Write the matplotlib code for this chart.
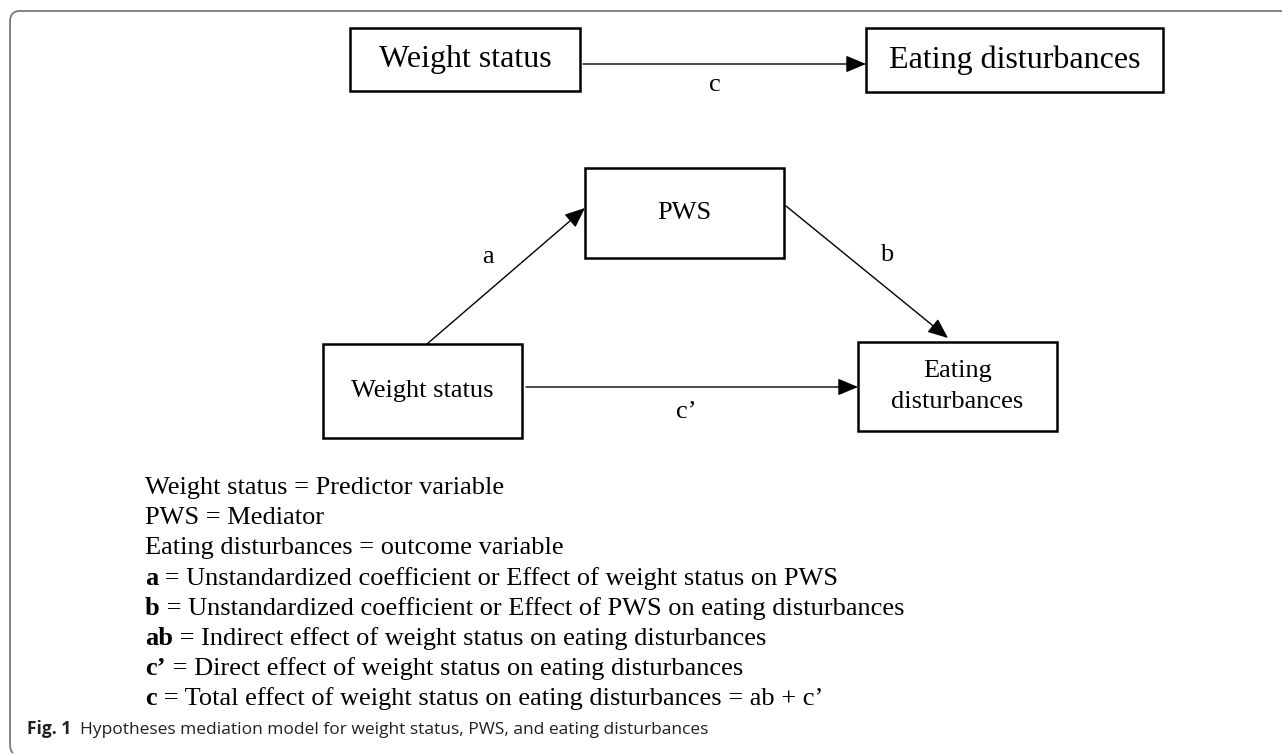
import matplotlib
matplotlib.use("Agg")
import matplotlib.pyplot as plt
from matplotlib.patches import Rectangle, PathPatch
from matplotlib.path import Path

# ---- content ----
box_labels = ["Weight status", "Eating disturbances", "PWS", "Weight status", "Eating\ndisturbances"]
path_labels = ["c", "a", "b", "c\u2019"]
legend_bold = ["", "", "", "a", "b", "ab", "c\u2019", "c"]
legend_text = [
    "Weight status = Predictor variable",
    "PWS = Mediator",
    "Eating disturbances = outcome variable",
    " = Unstandardized coefficient or Effect of weight status on PWS",
    " = Unstandardized coefficient or Effect of PWS on eating disturbances",
    " = Indirect effect of weight status on eating disturbances",
    " = Direct effect of weight status on eating disturbances",
    " = Total effect of weight status on eating disturbances = ab + c\u2019",
]
caption_bold = "Fig. 1"
caption_text = "Hypotheses mediation model for weight status, PWS, and eating disturbances"

# ---- layout (pixel coordinates) ----
W, H = 1282, 755
box_geom = [(350, 28, 580, 91), (866, 28, 1163, 92), (585, 168, 784, 258),
            (323, 344, 522, 438), (858, 342, 1057, 431)]
box_fs = [23, 23, 19, 19, 19]
arrows = [((583, 64), (866, 64)), ((427, 344), (585, 208)),
          ((786, 206), (948, 338)), ((526, 387), (858, 387))]
label_pos = [(715, 85), (488, 257), (887, 255), (686, 412)]

SERIF = "Liberation Serif"
SANS = "Open Sans"

fig = plt.figure(figsize=(W / 100, H / 100), dpi=100)
ax = fig.add_axes([0, 0, 1, 1])
ax.set_xlim(0, W)
ax.set_ylim(H, 0)
ax.axis("off")

# frame
verts = [(W, 11), (20, 11), (10, 11), (10, 21), (10, 744), (10, 751), (13, 753)]
codes = [Path.MOVETO, Path.LINETO, Path.CURVE3, Path.CURVE3, Path.LINETO, Path.CURVE3, Path.CURVE3]
ax.add_patch(PathPatch(Path(verts, codes), fill=False, edgecolor="#7a7a7a", lw=1.3))

# boxes
for lab, (x0, y0, x1, y1), fs in zip(box_labels, box_geom, box_fs):
    ax.add_patch(Rectangle((x0, y0), x1 - x0, y1 - y0, fill=False, edgecolor="black", lw=1.8))
    lines = lab.split("\n")
    cy = (y0 + y1) / 2
    n = len(lines)
    for i, ln in enumerate(lines):
        yy = cy + (i - (n - 1) / 2) * 30
        ax.text((x0 + x1) / 2, yy, ln, ha="center", va="center", fontsize=fs,
                family=SERIF, color="black")

# arrows
for (p0, p1) in arrows:
    ax.annotate("", xy=p1, xytext=p0,
                arrowprops=dict(arrowstyle="-|>,head_length=0.62,head_width=0.26",
                                lw=1.0, color="black", shrinkA=0, shrinkB=0,
                                mutation_scale=20))

for lab, (x, y) in zip(path_labels, label_pos):
    ax.text(x, y, lab, ha="center", va="center", fontsize=19, family=SERIF, color="black")

# legend
lx = 145
for i, (b, t) in enumerate(zip(legend_bold, legend_text)):
    by = 494 + 30.2 * i
    if b:
        bt = ax.text(lx, by, b, ha="left", va="baseline", fontsize=19, family=SERIF,
                     fontweight="bold", color="black")
        ax.annotate(t, xy=(1, 0), xycoords=bt, ha="left", va="bottom", fontsize=19,
                    family=SERIF, color="black")
    else:
        ax.text(lx, by, t, ha="left", va="baseline", fontsize=19, family=SERIF, color="black")

# caption
ct = ax.text(27, 734, caption_bold, ha="left", va="baseline", fontsize=12.5, family=SANS,
             fontweight="bold", color="#231f20")
ax.annotate("  " + caption_text, xy=(1, 0), xycoords=ct, ha="left", va="bottom",
            fontsize=12.5, family=SANS, color="#231f20")

fig.savefig("out.png", dpi=100)
